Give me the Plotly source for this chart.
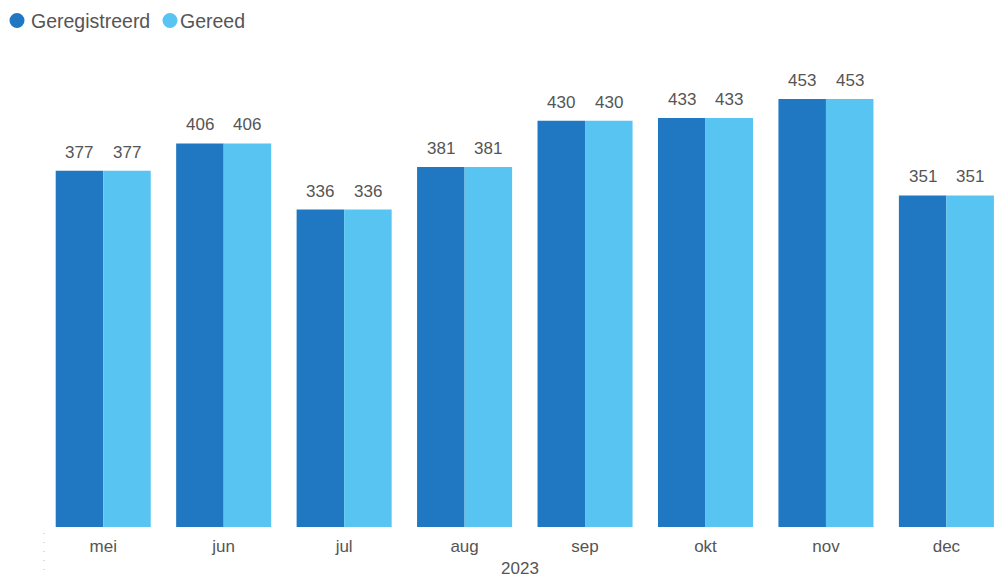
import plotly.graph_objects as go

months = ["mei", "jun", "jul", "aug", "sep", "okt", "nov", "dec"]
geregistreerd = [377, 406, 336, 381, 430, 433, 453, 351]
gereed = [377, 406, 336, 381, 430, 433, 453, 351]
series_names = ["Geregistreerd", "Gereed"]
colors = ["#1F78C1", "#58C4F1"]
year_label = "2023"

W, H = 997, 579
ML, MR, MT, MB = 43, 0, 60, 52
PW, PH = W - ML - MR, H - MT - MB
FONT = "Liberation Sans, Arial, sans-serif"
GREY = "#555555"


def px_x(px):
    return (px - ML) / PW


def px_y(py):
    return 1 - (py - MT) / PH


BARGAP = 0.211
XMAX = 7.42
cat_px = PW / (XMAX + 0.5)
bar_w_px = cat_px * (1 - BARGAP) / 2

fig = go.Figure()
for name, vals, col in zip(series_names, [geregistreerd, gereed], colors):
    fig.add_trace(go.Bar(
        x=months, y=vals, name=name,
        marker=dict(color=col, line=dict(width=0)),
        showlegend=False, hoverinfo="x+y+name",
    ))

# data labels
for si, vals in enumerate([geregistreerd, gereed]):
    shift = (-0.5 if si == 0 else 0.5) * bar_w_px
    for m, v in zip(months, vals):
        fig.add_annotation(x=m, y=v, text=str(v), showarrow=False,
                           xshift=shift, yshift=18.5, yanchor="middle",
                           font=dict(size=17, color=GREY, family=FONT))

# custom legend
legend_circles = [17, 170]
legend_texts = [29, 178]
for name, col, cx, tx in zip(series_names, colors, legend_circles, legend_texts):
    fig.add_shape(type="circle", xref="paper", yref="paper",
                  xsizemode="pixel", ysizemode="pixel",
                  xanchor=px_x(cx), yanchor=px_y(20.5),
                  x0=-7.5, x1=7.5, y0=-7.5, y1=7.5,
                  fillcolor=col, line=dict(width=0))
    fig.add_annotation(xref="paper", yref="paper", x=px_x(tx), y=px_y(20.5),
                       xanchor="left", yanchor="middle", showarrow=False,
                       text=name, font=dict(size=19.5, color=GREY, family=FONT))

fig.update_layout(
    width=W, height=H,
    margin=dict(l=ML, r=MR, t=MT, b=MB, autoexpand=False),
    paper_bgcolor="white", plot_bgcolor="white",
    barmode="group", bargap=BARGAP, bargroupgap=0,
    font=dict(family=FONT, color=GREY),
    showlegend=False,
)
fig.update_xaxes(
    range=[-0.5, XMAX], showgrid=False, showline=False, zeroline=False,
    tickfont=dict(size=17, color=GREY), ticks="outside", ticklen=4,
    tickcolor="rgba(0,0,0,0)",
    title=dict(text=year_label, font=dict(size=17, color=GREY), standoff=6),
)
fig.update_yaxes(range=[0, PH / 0.9448], visible=False)
fig.add_shape(type="line", xref="paper", yref="paper", x0=px_x(44), x1=px_x(44),
              y0=px_y(533), y1=px_y(573),
              line=dict(color="#BBBBBB", width=1, dash="1px,8px"))

fig.write_html("out.html", config={"displayModeBar": False}, post_script=(
    "document.body.style.margin='0';document.body.style.padding='0';"
    "document.body.style.overflow='hidden';"))
